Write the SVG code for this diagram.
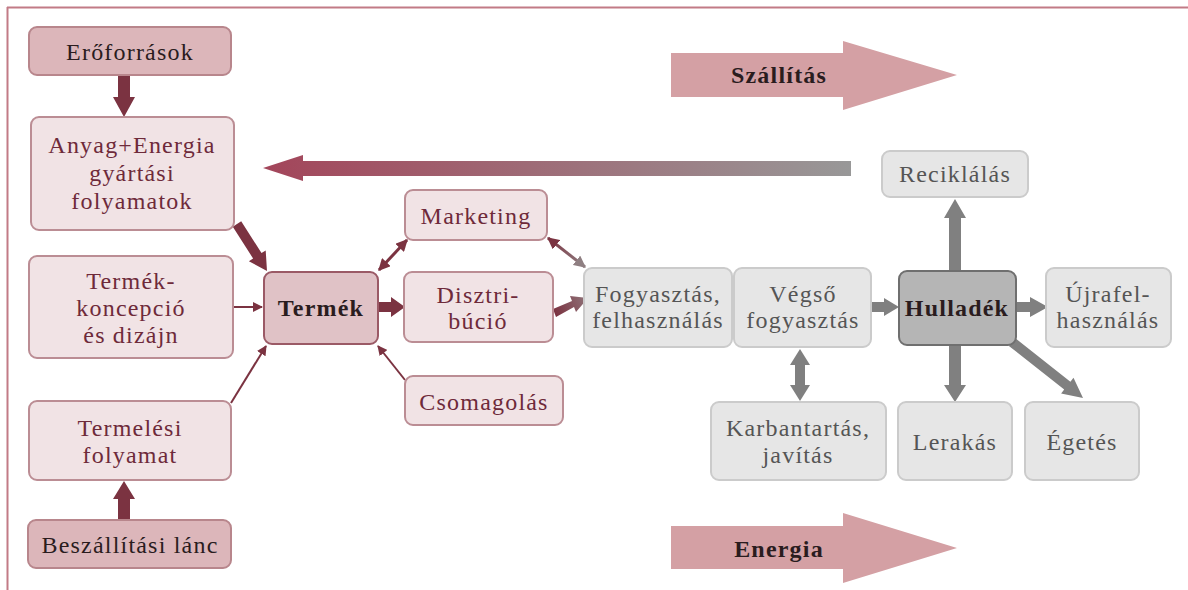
<svg xmlns="http://www.w3.org/2000/svg" width="1188" height="590" viewBox="0 0 1188 590">
<defs>
<linearGradient id="gBack" gradientUnits="userSpaceOnUse" x1="263" y1="0" x2="851" y2="0">
<stop offset="0" stop-color="#a3455a"/><stop offset="1" stop-color="#989898"/>
</linearGradient>
<linearGradient id="gMk" gradientUnits="userSpaceOnUse" x1="547" y1="237" x2="586" y2="268">
<stop offset="0" stop-color="#7b3341"/><stop offset="1" stop-color="#8f7f82"/>
</linearGradient>
<linearGradient id="gDi" gradientUnits="userSpaceOnUse" x1="555" y1="313" x2="587" y2="298">
<stop offset="0" stop-color="#7b3341"/><stop offset="1" stop-color="#8f7379"/>
</linearGradient>
<marker id="mh" viewBox="0 0 10 10" refX="9" refY="5" markerWidth="5" markerHeight="5" orient="auto-start-reverse" markerUnits="strokeWidth">
<path d="M0,0 L10,5 L0,10 z" fill="#7b3341"/>
</marker>
<marker id="mh2" viewBox="0 0 10 10" refX="9" refY="5" markerWidth="4" markerHeight="4" orient="auto-start-reverse" markerUnits="strokeWidth">
<path d="M0,0 L10,5 L0,10 z" fill="#7b3341"/>
</marker>
<marker id="mhA" viewBox="0 0 10 10" refX="9" refY="5" markerWidth="4" markerHeight="4" orient="auto" markerUnits="strokeWidth">
<path d="M0,0 L10,5 L0,10 z" fill="#8f7f82"/>
</marker>
<marker id="mhB" viewBox="0 0 10 10" refX="9" refY="5" markerWidth="4" markerHeight="4" orient="auto-start-reverse" markerUnits="strokeWidth">
<path d="M0,0 L10,5 L0,10 z" fill="#7b3341"/>
</marker>
</defs>
<style>
text{font-family:"Liberation Serif","Times New Roman",serif;font-size:24px;letter-spacing:1.2px;text-anchor:middle}
.dk{fill:#dcb6ba;stroke:#b8868c;stroke-width:2}
.lt{fill:#f1e3e5;stroke:#bb8d94;stroke-width:2}
.pr{fill:#e0c2c6;stroke:#9b5a66;stroke-width:2}
.gr{fill:#e6e6e6;stroke:#cbcbcb;stroke-width:2}
.hu{fill:#b5b5b5;stroke:#6f6f6f;stroke-width:2}
.tk{fill:#2a1c1e}
.tm{fill:#6e2a3a}
.tg{fill:#555555}
.b{font-weight:bold}
.big{fill:#d4a0a4}
.ar{fill:#7b3341}
.ag{fill:#808080}
.th{stroke:#7b3341;stroke-width:2;fill:none}
</style>
<g id="frame">
<line x1="7" y1="7.5" x2="1188" y2="7.5" stroke="#c27b86" stroke-width="2"/>
<line x1="7.5" y1="7" x2="7.5" y2="590" stroke="#c27b86" stroke-width="2"/>
</g>
<g id="bigarrows">
<g id="szallitas">
<polygon class="big" points="671,53 843,53 843,41 957,75 843,110 843,97 671,97"/>
<text x="779" y="83" class="tk b">Szállítás</text>
</g>
<g id="energia">
<polygon class="big" points="671,526 843,526 843,513 957,548 843,583 843,569 671,569"/>
<text x="779" y="557" class="tk b">Energia</text>
</g>
<polygon id="backflow" fill="url(#gBack)" points="851,161 851,176 303,176 303,181 263,168 303,155 303,161"/>
</g>
<g id="connectors">
<polygon class="ar" points="118,76 130,76 130,97 135,97 124,117 113,97 118,97"/>
<polygon class="ar" points="118,520 130,520 130,499 135,499 124,481 113,499 118,499"/>
<polygon class="ar" points="241.2,221.3 261.5,253.1 265.7,250.4 267,271 248.9,261.2 253.1,258.5 232.8,226.7"/>
<line class="th" x1="233" y1="307" x2="262" y2="307" marker-end="url(#mh)"/>
<line class="th" x1="231" y1="403" x2="266" y2="346" marker-end="url(#mh)"/>
<line class="th" x1="405" y1="380" x2="378" y2="346" marker-end="url(#mh)"/>
<line stroke="#7b3341" stroke-width="3" x1="379" y1="270" x2="407" y2="240" marker-start="url(#mhB)" marker-end="url(#mhB)"/>
<polygon class="ar" points="378,302 391,302 391,297 405,307 391,317 391,312 378,312"/>
<line stroke="url(#gMk)" stroke-width="3" x1="548" y1="238" x2="585" y2="267" marker-start="url(#mh2)" marker-end="url(#mhA)"/>
<polygon fill="url(#gDi)" points="553,309 572,301 570,296 588,298 576,312 574,307 556,317"/>
<polygon class="ag" points="872,302 884,302 884,298 899,307 884,316 884,312 872,312"/>
<polygon class="ag" points="1016,302 1030,302 1030,297 1048,307 1030,317 1030,312 1016,312"/>
<polygon class="ag" points="949,271 961,271 961,218 966,218 955,199 944,218 949,218"/>
<polygon class="ag" points="949,345 961,345 961,385 966,385 955,402 944,385 949,385"/>
<polygon class="ag" points="1015.1,338.1 1070.4,381.7 1073.5,377.7 1083,398 1061.1,393.5 1064.2,389.5 1008.9,345.9"/>
<polygon class="ag" points="800,349 810,365 805,365 805,385 810,385 800,401 790,385 795,385 795,365 790,365"/>
</g>
<g id="eroforrasok"><rect class="dk" x="29" y="27" width="202" height="48" rx="8"/><text x="130" y="60" class="tk">Erőforrások</text></g>
<g id="anyag"><rect class="lt" x="31" y="117" width="203" height="113" rx="8"/><text class="tm" x="132" y="153">Anyag+Energia</text><text class="tm" x="132" y="181">gyártási</text><text class="tm" x="132" y="209">folyamatok</text></g>
<g id="koncepcio"><rect class="lt" x="29" y="256" width="204" height="102" rx="8"/><text class="tm" x="131" y="289">Termék-</text><text class="tm" x="131" y="316">koncepció</text><text class="tm" x="131" y="343">és dizájn</text></g>
<g id="termelesi"><rect class="lt" x="29" y="401" width="202" height="79" rx="8"/><text class="tm" x="130" y="436">Termelési</text><text class="tm" x="130" y="463">folyamat</text></g>
<g id="beszallitasi"><rect class="dk" x="28" y="520" width="203" height="48" rx="8"/><text x="130" y="553" class="tk">Beszállítási lánc</text></g>
<g id="termek"><rect class="pr" x="264" y="272" width="114" height="72" rx="8"/><text x="321" y="316" class="tk b">Termék</text></g>
<g id="marketing"><rect class="lt" x="405" y="190" width="142" height="50" rx="8"/><text class="tm" x="476" y="224">Marketing</text></g>
<g id="disztribucio"><rect class="lt" x="404" y="272" width="149" height="70" rx="8"/><text class="tm" x="478" y="303">Disztri-</text><text class="tm" x="478" y="329">búció</text></g>
<g id="csomagolas"><rect class="lt" x="405" y="376" width="158" height="49" rx="8"/><text class="tm" x="484" y="410">Csomagolás</text></g>
<g id="fogyasztas"><rect class="gr" x="584" y="268" width="148" height="79" rx="8"/><text class="tg" x="658" y="302">Fogyasztás,</text><text class="tg" x="658" y="328">felhasználás</text></g>
<g id="vegso"><rect class="gr" x="734" y="268" width="137" height="79" rx="8"/><text class="tg" x="803" y="302">Végső</text><text class="tg" x="803" y="328">fogyasztás</text></g>
<g id="hulladek"><rect class="hu" x="899" y="271" width="117" height="74" rx="8"/><text x="957" y="316" class="tk b">Hulladék</text></g>
<g id="reciklalas"><rect class="gr" x="882" y="151" width="146" height="46" rx="8"/><text class="tg" x="955" y="182">Reciklálás</text></g>
<g id="ujrafelhasznalas"><rect class="gr" x="1046" y="268" width="125" height="79" rx="8"/><text class="tg" x="1108" y="302">Újrafel-</text><text class="tg" x="1108" y="328">használás</text></g>
<g id="karbantartas"><rect class="gr" x="711" y="402" width="175" height="78" rx="8"/><text class="tg" x="798" y="436">Karbantartás,</text><text class="tg" x="798" y="463">javítás</text></g>
<g id="lerakas"><rect class="gr" x="898" y="402" width="114" height="78" rx="8"/><text class="tg" x="955" y="450">Lerakás</text></g>
<g id="egetes"><rect class="gr" x="1025" y="402" width="114" height="78" rx="8"/><text class="tg" x="1082" y="450">Égetés</text></g>
</svg>
